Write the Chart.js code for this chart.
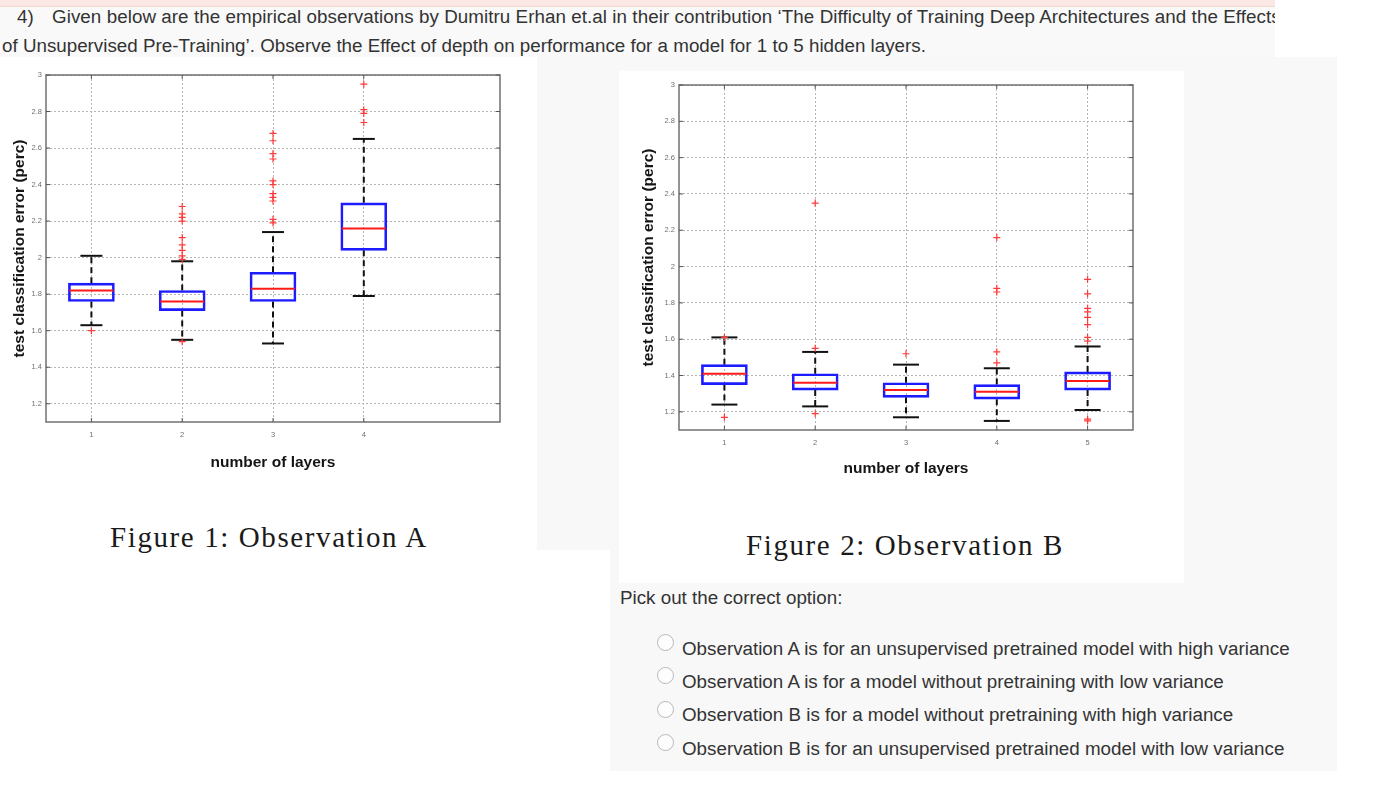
<!DOCTYPE html>
<html>
<head>
<meta charset="utf-8">
<script src="https://cdn.jsdelivr.net/npm/chart.js@4.4.0/dist/chart.umd.min.js"></script>
<style>
  body { margin: 0; width: 1382px; height: 797px; background: #fff; position: relative; overflow: hidden;
         font-family: 'Liberation Sans', Arial, sans-serif; color: #333; }
  .abs { position: absolute; }
  .q { font-size: 18.8px; line-height: 18.8px; white-space: nowrap; }
  .cap { font-family: 'Liberation Serif', 'Times New Roman', serif; font-size: 29px; line-height: 29px;
         letter-spacing: 1.6px; color: #1a1a1a; white-space: nowrap; }
  .radio { width: 15px; height: 15px; border: 1px solid #b8b8b8; border-radius: 50%; background: #fdfdfd; }
</style>
</head>
<body>

<!-- page backgrounds -->
<div class="abs" style="left:0;top:0;width:1275px;height:6px;background:#fbe8e4;border-bottom:1px solid #f4d8d2"></div>
<div class="abs" style="left:0;top:7px;width:1275px;height:50px;background:#f9f9f9"></div>
<div class="abs" style="left:0;top:57px;width:1337px;height:493px;background:#f8f8f8"></div>
<div class="abs" style="left:610px;top:550px;width:727px;height:221px;background:#f8f8f8"></div>

<!-- question text -->
<div class="abs q" style="left:17px;top:8px">4)</div>
<div class="abs q" style="left:52px;top:8px;width:1223px;overflow:hidden;letter-spacing:0.06px">Given below are the empirical observations by Dumitru Erhan et.al in their contribution ‘The Difficulty of Training Deep Architectures and the Effects</div>
<div class="abs q" style="left:2px;top:37px">of Unsupervised Pre-Training’. Observe the Effect of depth on performance for a model for 1 to 5 hidden layers.</div>

<!-- figure A -->
<div class="abs" style="left:0;top:57px;width:537px;height:493px;background:#fff">
  <canvas id="chartA" width="537" height="415"></canvas>
</div>
<div class="abs cap" style="left:110px;top:523px">Figure 1: Observation A</div>

<!-- figure B -->
<div class="abs" style="left:619px;top:71px;width:565px;height:512px;background:#fff">
  <canvas id="chartB" width="565" height="407"></canvas>
</div>
<div class="abs cap" style="left:746px;top:531px">Figure 2: Observation B</div>

<!-- options -->
<div class="abs q" style="left:620px;top:589px">Pick out the correct option:</div>
<div class="abs radio" style="left:657px;top:634px"></div>
<div class="abs radio" style="left:657px;top:667px"></div>
<div class="abs radio" style="left:657px;top:701px"></div>
<div class="abs radio" style="left:657px;top:734px"></div>
<div class="abs q" style="left:682px;top:640px">Observation A is for an unsupervised pretrained model with high variance</div>
<div class="abs q" style="left:682px;top:673px">Observation A is for a model without pretraining with low variance</div>
<div class="abs q" style="left:682px;top:706px">Observation B is for a model without pretraining with high variance</div>
<div class="abs q" style="left:682px;top:740px">Observation B is for an unsupervised pretrained model with low variance</div>

<script>
// ---------- data ----------
const yTicks = [1.2, 1.4, 1.6, 1.8, 2, 2.2, 2.4, 2.6, 2.8, 3];

// Observation A (1 to 4 layers)
const layersA = [1, 2, 3, 4];
const q1A = [1.76, 1.71, 1.76, 2.04];
const medianA = [1.82, 1.76, 1.83, 2.16];
const q3A = [1.86, 1.82, 1.92, 2.30];
const lowerA = [1.63, 1.55, 1.53, 1.79];
const upperA = [2.01, 1.98, 2.14, 2.65];
const outliersA = [
    [1.60],
    [2.28, 2.24, 2.22, 2.20, 2.11, 2.07, 2.04, 2.01, 1.99, 1.54],
    [2.68, 2.64, 2.57, 2.54, 2.42, 2.40, 2.35, 2.33, 2.31, 2.21, 2.19],
    [2.95, 2.81, 2.79, 2.74]
];

// Observation B (1 to 5 layers)
const layersB = [1, 2, 3, 4, 5];
const q1B = [1.35, 1.32, 1.28, 1.27, 1.32];
const medianB = [1.41, 1.36, 1.32, 1.31, 1.37];
const q3B = [1.46, 1.41, 1.36, 1.35, 1.42];
const lowerB = [1.24, 1.23, 1.17, 1.15, 1.21];
const upperB = [1.61, 1.53, 1.46, 1.44, 1.56];
const outliersB = [
    [1.61, 1.17],
    [2.35, 1.55, 1.19],
    [1.52],
    [2.16, 1.88, 1.86, 1.53, 1.47],
    [1.93, 1.85, 1.77, 1.75, 1.72, 1.68, 1.61, 1.59, 1.16, 1.15]
];

const fontFamily = "'Liberation Sans', Arial, sans-serif";

// frame round the plot area plus small inward ticks, matlab style
const framePlugin = {
    id: 'frame',
    beforeDatasetsDraw (chart) {
        const { ctx, chartArea: a, scales } = chart;
        ctx.save();
        ctx.strokeStyle = '#707070';
        ctx.lineWidth = 1.5;
        ctx.strokeRect(a.left, a.top, a.right - a.left, a.bottom - a.top);
        ctx.strokeStyle = '#555';
        ctx.lineWidth = 1;
        ctx.beginPath();
        scales.y.ticks.forEach(function (t) {
            const y = scales.y.getPixelForValue(t.value);
            ctx.moveTo(a.left, y); ctx.lineTo(a.left + 4, y);
            ctx.moveTo(a.right, y); ctx.lineTo(a.right - 4, y);
        });
        scales.x.ticks.forEach(function (t) {
            const x = scales.x.getPixelForValue(t.value);
            ctx.moveTo(x, a.top); ctx.lineTo(x, a.top + 4);
            ctx.moveTo(x, a.bottom); ctx.lineTo(x, a.bottom - 4);
        });
        ctx.stroke();
        ctx.restore();
    }
};

/**
 * build the box plot config from the arrays of one figure
 */
function boxConfig (layers, q1, median, q3, lower, upper, outliers, look) {
    const boxes = layers.map((x, i) => ({ x: x, y: [q1[i], q3[i]] }));
    const medians = layers.map((x, i) => ({ x: x, y: median[i] }));
    const caps = layers.flatMap((x, i) => [{ x: x, y: lower[i] }, { x: x, y: upper[i] }]);
    const whiskers = layers.flatMap((x, i) => [
        { x: x, y: q3[i] }, { x: x, y: upper[i] }, { x: x, y: null },
        { x: x, y: q1[i] }, { x: x, y: lower[i] }, { x: x, y: null }
    ]);
    const outs = layers.flatMap((x, i) => outliers[i].map(v => ({ x: x, y: v })));

    const gridLook = { color: '#b4b4b4', lineWidth: 1, drawTicks: false, offset: false };
    const tickLook = { font: { size: 7.5, family: fontFamily }, color: '#707070' };
    const titleFont = { size: 15.5, weight: 'bold', family: fontFamily };

    return {
        type: 'bar',
        data: {
            datasets: [
                {
                    type: 'bar',
                    data: boxes,
                    backgroundColor: 'rgba(255,255,255,0)',
                    borderColor: '#1c1cff',
                    borderWidth: 2,
                    borderSkipped: false,
                    barThickness: look.boxWidth,
                    order: 3
                },
                {
                    type: 'line',
                    data: whiskers,
                    borderColor: '#111',
                    borderWidth: 2,
                    borderDash: [6, 4],
                    pointRadius: 0,
                    spanGaps: false,
                    order: 4
                },
                {
                    type: 'scatter',
                    data: caps,
                    pointStyle: 'line',
                    pointRadius: look.capWidth / 2,
                    pointBorderColor: '#111',
                    pointBorderWidth: 2,
                    order: 2
                },
                {
                    type: 'scatter',
                    data: medians,
                    pointStyle: 'line',
                    pointRadius: look.boxWidth / 2 - 1,
                    pointBorderColor: '#ff1a1a',
                    pointBorderWidth: 2,
                    order: 1
                },
                {
                    type: 'scatter',
                    data: outs,
                    pointStyle: 'cross',
                    pointRadius: 3.5,
                    pointBorderColor: '#ff3a3a',
                    pointBorderWidth: 1.2,
                    order: 0
                }
            ]
        },
        options: {
            responsive: false,
            animation: false,
            events: [],
            layout: { padding: look.padding, autoPadding: false },
            plugins: { legend: { display: false }, tooltip: { enabled: false } },
            scales: {
                x: {
                    type: 'linear',
                    min: 0.5,
                    max: 5.5,
                    offset: false,
                    afterBuildTicks: s => { s.ticks = layers.map(v => ({ value: v })); },
                    afterFit: s => { s.height = look.xAxisHeight; },
                    grid: gridLook,
                    border: { display: false, dash: [2, 2] },
                    ticks: Object.assign({ padding: look.xTickPad, callback: v => String(v) }, tickLook),
                    title: {
                        display: true,
                        text: 'number of layers',
                        font: titleFont,
                        color: '#151515',
                        padding: { top: look.xTitlePad, bottom: 0 }
                    }
                },
                y: {
                    type: 'linear',
                    min: 1.1,
                    max: 3,
                    afterBuildTicks: s => { s.ticks = yTicks.map(v => ({ value: v })); },
                    afterFit: s => { s.width = look.yAxisWidth; },
                    grid: gridLook,
                    border: { display: false, dash: [2, 2] },
                    ticks: Object.assign({ padding: look.yTickPad, callback: v => String(v) }, tickLook),
                    title: {
                        display: true,
                        text: 'test classification error (perc)',
                        font: titleFont,
                        color: '#151515',
                        padding: { top: look.yTitlePad, bottom: 0 }
                    }
                }
            }
        },
        plugins: [framePlugin]
    };
}

const chartA = new Chart(
    document.getElementById('chartA'),
    boxConfig(layersA, q1A, medianA, q3A, lowerA, upperA, outliersA, {
        boxWidth: 46, capWidth: 22, padding: { left: 0, right: 37, top: 18, bottom: 0 },
        yAxisWidth: 46, xAxisHeight: 50, yTickPad: 4, xTickPad: 8, xTitlePad: 0, yTitlePad: 10
    })
);

const chartB = new Chart(
    document.getElementById('chartB'),
    boxConfig(layersB, q1B, medianB, q3B, lowerB, upperB, outliersB, {
        boxWidth: 46, capWidth: 26, padding: { left: 0, right: 51, top: 14, bottom: 0 },
        yAxisWidth: 60, xAxisHeight: 48, yTickPad: 4, xTickPad: 8, xTitlePad: 2, yTitlePad: 20
    })
);
</script>
</body>
</html>
